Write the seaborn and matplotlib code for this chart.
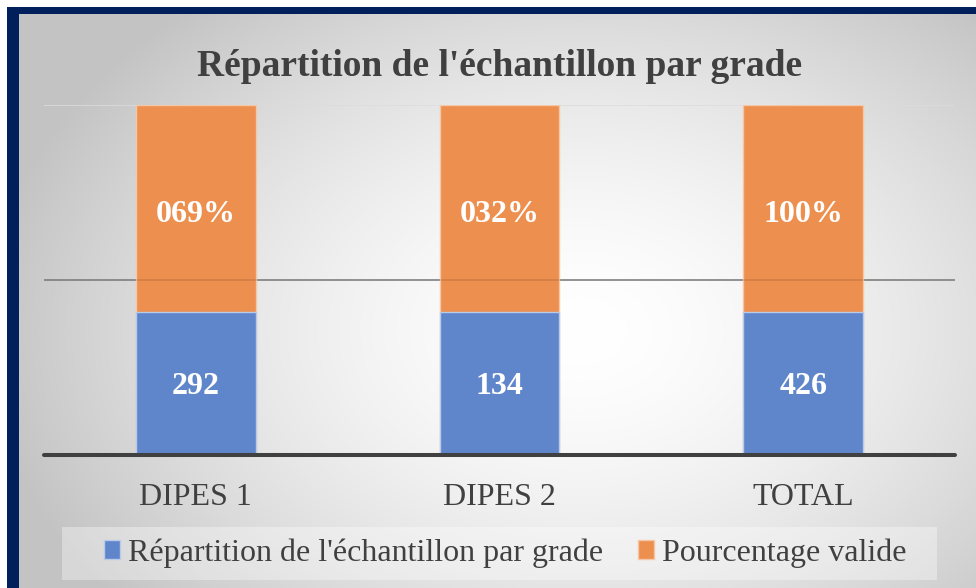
import numpy as np
import pandas as pd
import matplotlib
matplotlib.use("Agg")
import matplotlib.pyplot as plt
import seaborn as sns
from matplotlib.patches import Patch, Rectangle

# ---- data ----
categories = ["DIPES 1", "DIPES 2", "TOTAL"]
counts = [292, 134, 426]                     # blue labels
pct_labels = ["069%", "032%", "100%"]        # orange labels
blue_share = [0.41, 0.41, 0.41]              # displayed share of blue segment
orange_share = [0.59, 0.59, 0.59]            # displayed share of orange segment
series_names = ["Répartition de l'échantillon par grade", "Pourcentage valide"]
title = "Répartition de l'échantillon par grade"

sns.set_theme(style="white")
plt.rcParams["font.family"] = ["Liberation Serif", "DejaVu Serif"]

W, H = 976, 588
fig = plt.figure(figsize=(W / 100, H / 100), dpi=100)

# background: white margin, navy frame, radial grey gradient
yy, xx = np.mgrid[0:H, 0:W]
r = np.sqrt(((xx - 580) / 600.0) ** 2 + ((yy - 330) / 430.0) ** 2)
val = 255 - 60 * np.clip(r, 0, 1) ** 1.6
img = np.stack([val, val, val], axis=-1)
img[(xx >= 7) & (yy >= 7)] = [0, 31, 91]
inner = (xx >= 19) & (yy >= 14)
img[inner] = np.stack([val[inner]] * 3, axis=-1)
img[(xx < 7) | (yy < 7)] = 255
bg = fig.add_axes([0, 0, 1, 1], zorder=-10)
bg.imshow(img.astype(np.uint8), aspect="auto", interpolation="nearest")
bg.axis("off")

# legend background box
fig.patches.append(Rectangle((62 / W, 1 - 580 / H), (937 - 62) / W, 53 / H,
                             transform=fig.transFigure, facecolor="white",
                             alpha=0.35, edgecolor="none", zorder=-5))

ax = fig.add_axes([44 / W, 1 - 455 / H, (955 - 44) / W, (455 - 105) / H])
ax.patch.set_alpha(0)

df = pd.DataFrame({"cat": categories, "blue": blue_share,
                   "total": np.array(blue_share) + np.array(orange_share)})

blue_c = "#5F86CA"
orange_c = "#ED8F4F"
sns.barplot(data=df, x="cat", y="total", color=orange_c, width=0.395,
            saturation=1, edgecolor="#f6c7a6", linewidth=1,
            ax=ax, zorder=2)
sns.barplot(data=df, x="cat", y="blue", color=blue_c, width=0.395,
            saturation=1, edgecolor="#b9cbe9", linewidth=1,
            ax=ax, zorder=3)

ax.set_ylim(0, 1)
ax.set_xlim(-0.5, 2.5)
ax.axhline(0.5, color="#8a8a8a", lw=1.1, zorder=1)
ax.axhline(0.5, color="black", alpha=0.12, lw=1.1, zorder=4)
ax.axhline(1.0, color="#dcdcdc", lw=1.1, zorder=1)
ax.axhline(0.0, color="#404040", lw=2.9, zorder=5, clip_on=False)
for s in ax.spines.values():
    s.set_visible(False)
ax.set_yticks([])
ax.set_xlabel("")
ax.set_ylabel("")
ax.tick_params(axis="x", length=0, pad=20, labelsize=23, labelcolor="#404040")

for i in range(len(categories)):
    b = blue_share[i]
    o = orange_share[i]
    ax.annotate(str(counts[i]), (i, b / 2), xytext=(0, -2.5),
                textcoords="offset points", ha="center", va="center",
                color="white", fontsize=23, fontweight="bold", zorder=6)
    ax.annotate(pct_labels[i], (i, b + o / 2), xytext=(0, -4.5),
                textcoords="offset points", ha="center", va="center",
                color="white", fontsize=23, fontweight="bold", zorder=6)

fig.text(500 / W, 1 - 67 / H, title, ha="center", va="center",
         fontsize=27, fontweight="bold", color="#404040")

# legend
handles = [Patch(facecolor=blue_c, edgecolor="#b9cbe9"),
           Patch(facecolor=orange_c, edgecolor="#f6c7a6")]
leg = fig.legend(handles, series_names, loc="center", ncol=2,
                 bbox_to_anchor=(505 / W, 1 - 553 / H), frameon=False,
                 fontsize=23, handlelength=0.5, handleheight=0.5,
                 handletextpad=0.25, columnspacing=1.1, borderpad=0.3,
                 labelcolor="#404040")

fig.savefig("out.png", dpi=100)
